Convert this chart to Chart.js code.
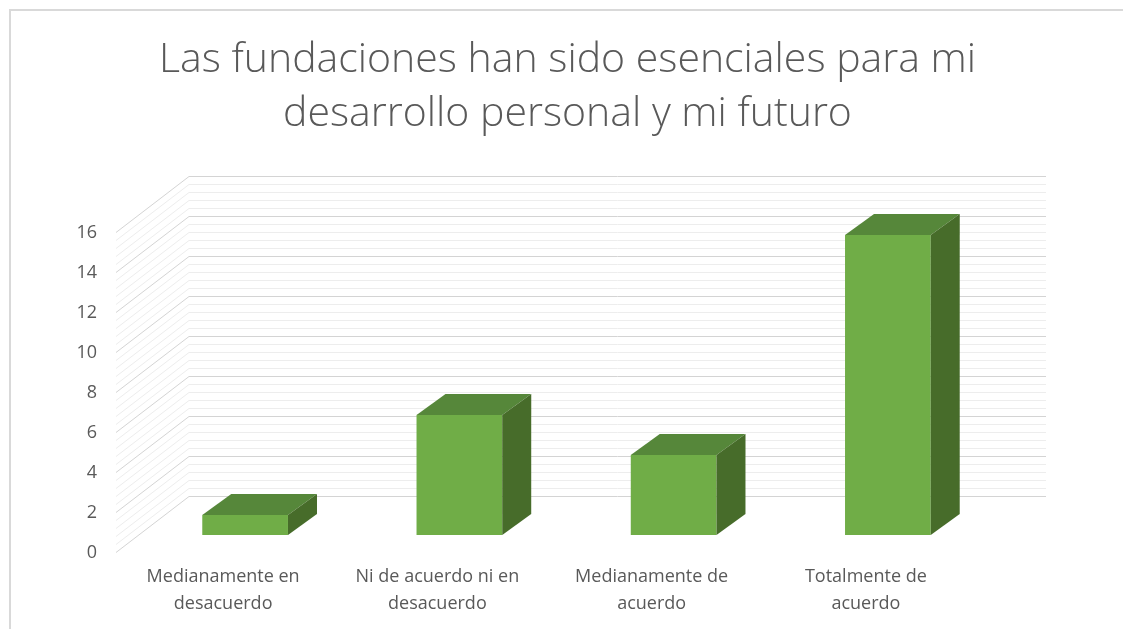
<!DOCTYPE html>
<html lang="es">
<head>
<meta charset="UTF-8">
<title>Las fundaciones han sido esenciales</title>
<script src="https://cdn.jsdelivr.net/npm/chart.js"></script>
<style>
  * { box-sizing: border-box; margin: 0; padding: 0; }
  body { background: #fff; width: 1123px; height: 629px; overflow: hidden; }
  #wrap { position: relative; width: 1123px; height: 629px; }
</style>
</head>
<body>
<div id="wrap"><canvas id="grafica" width="1123" height="629"></canvas></div>
<script>
// datos
const titulo = ['Las fundaciones han sido esenciales para mi', 'desarrollo personal y mi futuro'];
const categorias = [
  ['Medianamente en', 'desacuerdo'],
  ['Ni de acuerdo ni en', 'desacuerdo'],
  ['Medianamente de', 'acuerdo'],
  ['Totalmente de', 'acuerdo']
];
const valores = [1, 6, 4, 15];
const ejeMin = 0;
const ejeMax = 16;
const pasoMayor = 2;
const pasoMenor = 0.4;

const GRIS_TXT = '#595959';
const VERDE = '#70AD47';
const VERDE_TOP = '#56873A';
const VERDE_LADO = '#476C2A';

// profundidad (perspectiva falsa)
const FONDO = { dx: 51, dy: -39 };   // plano de barras -> pared del fondo
const FRENTE = { dx: -22, dy: 17 };  // plano de barras -> plano frontal
const PROF_BARRA = { dx: 29, dy: -21 };

const marco = {
  id: 'marco',
  beforeDraw(chart) {
    const c = chart.ctx;
    c.save();
    c.fillStyle = '#fff';
    c.fillRect(0, 0, chart.width, chart.height);
    c.strokeStyle = '#D9D9D9';
    c.lineWidth = 2;
    c.beginPath();
    c.moveTo(10, chart.height);
    c.lineTo(10, 10);
    c.lineTo(chart.width, 10);
    c.stroke();
    c.restore();
  }
};

const paredes = {
  id: 'paredes',
  beforeDatasetsDraw(chart) {
    const c = chart.ctx;
    const a = chart.chartArea;
    const y = chart.scales.y;
    const xIzqFondo = a.left + FONDO.dx;
    const xDerFondo = a.right + FONDO.dx;
    const xIzqFrente = a.left + FRENTE.dx;
    const n = Math.round((ejeMax - ejeMin) / pasoMenor);
    const porMayor = Math.round(pasoMayor / pasoMenor);
    c.save();
    c.lineWidth = 1;
    // menores primero, luego mayores encima
    for (let pasada = 0; pasada < 2; pasada++) {
      for (let k = 0; k <= n; k++) {
        const mayor = k % porMayor === 0;
        if ((pasada === 0) === mayor) continue;
        const py = y.getPixelForValue(ejeMin + k * pasoMenor);
        c.strokeStyle = mayor ? '#D4D4D4' : '#EDEDED';
        c.beginPath();
        c.moveTo(xIzqFrente, Math.round(py + FRENTE.dy) + 0.5);
        c.lineTo(xIzqFondo, Math.round(py + FONDO.dy) + 0.5);
        c.lineTo(xDerFondo, Math.round(py + FONDO.dy) + 0.5);
        c.stroke();
      }
    }
    c.restore();
  }
};

const caras3d = {
  id: 'caras3d',
  afterDatasetsDraw(chart) {
    const c = chart.ctx;
    const meta = chart.getDatasetMeta(0);
    c.save();
    meta.data.forEach(bar => {
      const p = bar.getProps(['x', 'y', 'base', 'width'], true);
      const izq = p.x - p.width / 2;
      const der = p.x + p.width / 2;
      const dx = PROF_BARRA.dx, dy = PROF_BARRA.dy;
      // cara superior
      c.fillStyle = VERDE_TOP;
      c.beginPath();
      c.moveTo(izq, p.y);
      c.lineTo(izq + dx, p.y + dy);
      c.lineTo(der + dx, p.y + dy);
      c.lineTo(der, p.y);
      c.closePath();
      c.fill();
      // cara lateral
      c.fillStyle = VERDE_LADO;
      c.beginPath();
      c.moveTo(der, p.y);
      c.lineTo(der + dx, p.y + dy);
      c.lineTo(der + dx, p.base + dy);
      c.lineTo(der, p.base);
      c.closePath();
      c.fill();
    });
    c.restore();
  }
};

new Chart(document.getElementById('grafica'), {
  type: 'bar',
  data: {
    labels: categorias,
    datasets: [{
      data: valores,
      backgroundColor: VERDE,
      borderWidth: 0,
      barPercentage: 0.4,
      categoryPercentage: 1
    }]
  },
  options: {
    responsive: false,
    animation: false,
    layout: { padding: { left: 12, right: 0, top: 0, bottom: 0 } },
    plugins: {
      legend: { display: false },
      tooltip: { enabled: false },
      title: {
        display: true,
        text: titulo,
        color: GRIS_TXT,
        font: { family: 'Open Sans', size: 41, weight: '300', lineHeight: 1.317 },
        padding: { top: 33, bottom: 74 }
      }
    },
    scales: {
      x: {
        grid: { display: false, drawTicks: false },
        border: { display: false },
        ticks: {
          color: GRIS_TXT,
          font: { family: 'Open Sans', size: 18, lineHeight: 1.5 },
          padding: 28,
          labelOffset: -22,
          maxRotation: 0,
          autoSkip: false
        },
        afterFit(s) { s.height = 94; }
      },
      y: {
        min: ejeMin,
        max: ejeMax,
        grid: { display: false, drawTicks: false },
        border: { display: false },
        ticks: {
          stepSize: pasoMayor,
          color: GRIS_TXT,
          font: { family: 'Open Sans', size: 18 },
          padding: 41,
          labelOffset: 18
        },
        afterFit(s) { s.width = 126; }
      },
      // hueco derecho, sin marcas
      yDer: {
        position: 'right',
        display: true,
        grid: { display: false, drawTicks: false },
        border: { display: false },
        ticks: { display: false },
        afterFit(s) { s.width = 128; }
      }
    }
  },
  plugins: [marco, paredes, caras3d]
});
</script>
</body>
</html>
